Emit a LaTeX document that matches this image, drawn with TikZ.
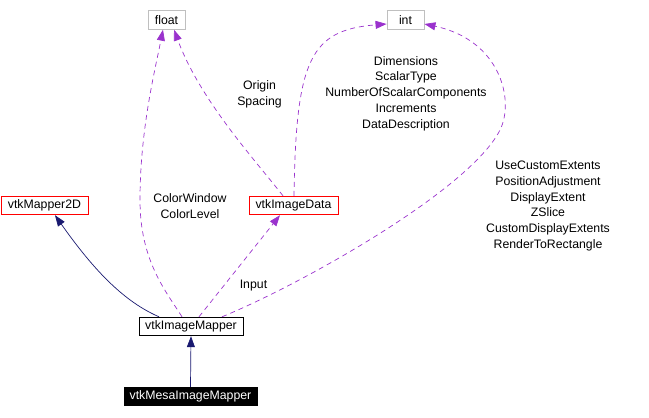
\documentclass[tikz,border=0pt]{standalone}
\usepackage{fontspec}
\setmainfont{Liberation Sans}
\usetikzlibrary{arrows.meta}
\definecolor{edgepurple}{HTML}{9A32CD}
\definecolor{edgenavy}{HTML}{191970}
\definecolor{boxgray}{HTML}{BFBFBF}
\definecolor{boxred}{HTML}{FF0000}
\tikzset{
  every node/.style={font=\fontsize{12.3}{15.7}\selectfont},
  cls/.style={draw, line width=0.9pt, inner sep=0pt, minimum height=18.5pt, text=black},
  plain/.style={cls, draw=boxgray},
  redbox/.style={cls, draw=boxred},
  blackbox/.style={cls, draw=black},
  mainbox/.style={cls, draw=black, fill=black, text=white},
  lbl/.style={align=center, inner sep=0pt, text=black},
  inh/.style={draw=edgenavy, line width=0.7pt, -{Triangle[length=11pt,width=8pt]}},
  use/.style={draw=edgepurple, line width=0.7pt, dash pattern=on 5pt off 4pt, -{Triangle[length=11pt,width=8pt]}},
}
\begin{document}
\begin{tikzpicture}[x=1pt,y=-1pt]
\useasboundingbox (0,0) rectangle (649,418);
% nodes
\node[plain, minimum width=37pt] (float) at (166.5,20) {float};
\node[plain, minimum width=37pt] (int) at (405.5,20) {int};
\node[redbox, minimum width=87pt] (m2d) at (44.5,205.5) {vtkMapper2D};
\node[redbox, minimum width=89pt] (idata) at (293.5,205.5) {vtkImageData};
\node[blackbox, minimum width=104pt] (im) at (191,326.5) {vtkImageMapper};
\node[mainbox, minimum width=133pt] (mesa) at (190.5,396.5) {vtkMesaImageMapper};
% labels
\node[lbl] (lcolor) at (190,206) {ColorWindow\\ColorLevel};
\node[lbl] (lorigin) at (259.5,94) {Origin\\Spacing};
\node[lbl] (ldims) at (406,93.5) {Dimensions\\ScalarType\\NumberOfScalarComponents\\Increments\\DataDescription};
\node[lbl] (lext) at (548,206) {UseCustomExtents\\PositionAdjustment\\DisplayExtent\\ZSlice\\CustomDisplayExtents\\RenderToRectangle};
\node[lbl] (linput) at (253.5,286) {Input};
% edges
\draw[inh] (mesa.north) -- (im.south);
\draw[inh] ([xshift=-32pt]im.north) .. controls (125,302) and (95,272) .. ([xshift=10.5pt]m2d.south);
\draw[use] ([xshift=-9pt]im.north) .. controls (165,290) and (140,260) .. (140,200) .. controls (140,130) and (155,70) .. ([xshift=-3.5pt]float.south);
\draw[use] ([xshift=-10.5pt]idata.north) .. controls (255,160) and (200,100) .. ([xshift=7.5pt]float.south);
\draw[use] ([xshift=0.5pt]idata.north) .. controls (296,60) and (310,30) .. ([yshift=-4pt]int.west);
\draw[use] ([xshift=8pt]im.north) -- ([xshift=-13.5pt]idata.south);
\draw[use] ([xshift=31pt]im.north) .. controls (300,285) and (470,190) .. (500,130) .. controls (515,100) and (500,40) .. ([yshift=-4pt]int.east);
\end{tikzpicture}
\end{document}
